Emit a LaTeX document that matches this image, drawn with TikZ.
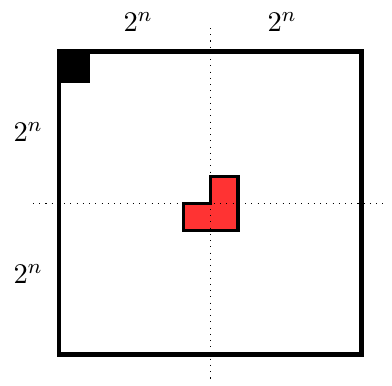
\documentclass[tikz,border=0pt]{standalone}
\begin{document}
\begin{tikzpicture}[x=0.3846pt,y=-0.3846pt,
  board/.style={draw=black,line width=1.92pt},
  tromino/.style={draw=black,fill=red!80,line width=1.27pt,line join=miter},
  guide/.style={draw=black,line width=0.4pt,dotted},
  dimlabel/.style={inner sep=0pt,font=\fontsize{11}{13}\selectfont}]
\useasboundingbox (0,0) rectangle (392,385);
% missing cell
\fill[black] (59,51.5) rectangle (89.5,82.5);
% board
\draw[board] (59,51.5) rectangle (361.5,354.5);
% L-tromino
\draw[tromino] (210.5,176.5) -- (238,176.5) -- (238,230.5) -- (183.3,230.5)
  -- (183.3,203.6) -- (210.5,203.6) -- cycle;
% guide lines
\coordinate (vt) at (210.3,28);
\coordinate (vb) at (210.3,382);
\coordinate (hl) at (33,203.3);
\coordinate (hr) at (388,203.3);
\draw[guide] (vt) -- (vb);
\draw[guide] (hl) -- (hr);
% labels
\node[dimlabel] (top1) at (138,22) {$2^n$};
\node[dimlabel] (top2) at (282,22) {$2^n$};
\node[dimlabel] (left1) at (28,132) {$2^n$};
\node[dimlabel] (left2) at (28,274) {$2^n$};
\end{tikzpicture}
\end{document}
